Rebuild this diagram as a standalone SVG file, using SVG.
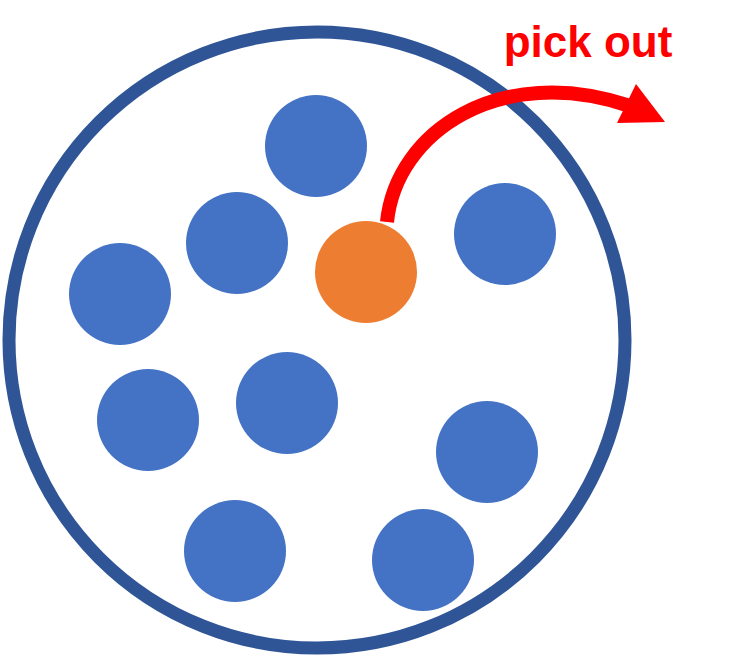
<svg xmlns="http://www.w3.org/2000/svg" width="743" height="656" viewBox="0 0 743 656">
<style>
.ball{fill:#4472C4}
.pick{fill:#ED7D31}
.lbl{font-family:"Liberation Sans",Arial,sans-serif;font-weight:bold;font-size:44px;fill:#FF0000}
</style>
<rect width="743" height="656" fill="#fff"/>
<g id="container"><circle cx="317" cy="340" r="308" fill="none" stroke="#2F5597" stroke-width="13"/></g>
<g id="b1"><circle class="ball" cx="316" cy="146" r="51"/></g>
<g id="b2"><circle class="ball" cx="237" cy="243" r="51"/></g>
<g id="b3"><circle class="ball" cx="120" cy="294" r="51"/></g>
<g id="b4"><circle class="ball" cx="148" cy="420" r="51"/></g>
<g id="b5"><circle class="ball" cx="287" cy="403" r="51"/></g>
<g id="b6"><circle class="ball" cx="505" cy="234" r="51"/></g>
<g id="b7"><circle class="ball" cx="487" cy="452" r="51"/></g>
<g id="b8"><circle class="ball" cx="235" cy="551" r="51"/></g>
<g id="b9"><circle class="ball" cx="423" cy="560" r="51"/></g>
<g id="picked"><circle class="pick" cx="366" cy="272" r="51"/></g>
<g id="connectors">
<path d="M 387 222 C 396 132, 500 62, 630 106" fill="none" stroke="#FF0000" stroke-width="14"/>
<polygon points="636,84 617,123 665,122" fill="#FF0000"/>
</g>
<g id="label"><text class="lbl" x="588" y="57" text-anchor="middle">pick out</text></g>
</svg>
